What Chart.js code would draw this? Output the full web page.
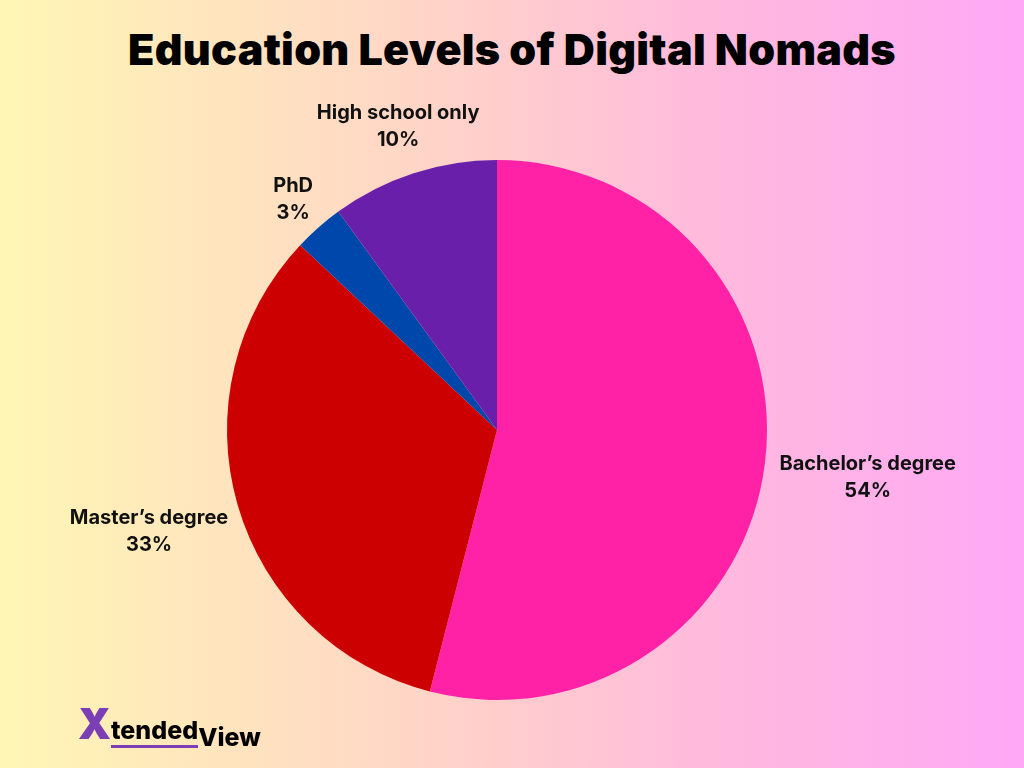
<!DOCTYPE html>
<html lang="en">
<head>
    <meta charset="UTF-8">
    <title>Education Levels of Digital Nomads</title>
    <script src="https://cdn.jsdelivr.net/npm/chart.js"></script>
    <style>
        html, body {
            margin: 0;
            padding: 0;
            width: 1024px;
            height: 768px;
            overflow: hidden;
            background: linear-gradient(to right, #fff6b4 0%, #ffd6c6 40%, #ffb9dd 70%, #ffa8f6 100%);
            font-family: 'Inter', 'Roboto', sans-serif;
        }
        #chart-container {
            position: absolute;
            left: 0;
            top: 0;
            width: 1024px;
            height: 768px;
        }
        h1 {
            position: absolute;
            top: 23px;
            left: 0;
            width: 1024px;
            margin: 0;
            text-align: center;
            font-family: 'Inter', sans-serif;
            font-weight: 900;
            font-size: 43px;
            color: #000;
            letter-spacing: 0.3px;
        }
        #logo {
            position: absolute;
            left: 78px;
            top: 698px;
            font-family: 'Inter', sans-serif;
            font-weight: 800;
            color: #000;
            white-space: nowrap;
        }
        #logo .x { font-size: 42px; color: #7b3fb5; font-weight: 900; }
        #logo .t { font-size: 25px; border-bottom: 3px solid #7b3fb5; }
        #logo .v { font-size: 25px; position: relative; top: 7px; }
    </style>
</head>
<body>
    <h1>Education Levels of Digital Nomads</h1>
    <div id="chart-container">
        <canvas id="pieChart"></canvas>
    </div>
    <div id="logo"><span class="x">X</span><span class="t">tended</span><span class="v">View</span></div>

    <script>
        const categories = ["Bachelor’s degree", "Master’s degree", 'PhD', 'High school only'];
        const shares = [54, 33, 3, 10];
        const colors = ['#ff21a6', '#cc0000', '#0047ab', '#6a1fab'];

        const ctx = document.getElementById('pieChart').getContext('2d');

        // labels outside each slice, pushed out until the text box clears the rim
        const outsideLabels = {
            id: 'outsideLabels',
            afterDatasetsDraw(chart) {
                const { ctx } = chart;
                const meta = chart.getDatasetMeta(0);
                ctx.save();
                ctx.font = 'bold 20px Inter, sans-serif';
                ctx.fillStyle = '#111';
                ctx.textAlign = 'center';
                ctx.textBaseline = 'middle';
                meta.data.forEach((arc, i) => {
                    const mid = (arc.startAngle + arc.endAngle) / 2;
                    const dx = Math.cos(mid), dy = Math.sin(mid);
                    const w = ctx.measureText(categories[i]).width;
                    const halfW = w / 2, halfH = 24;
                    const ext = Math.hypot(halfW * dx, halfH * dy);
                    const dist = arc.outerRadius + 16 + ext;
                    const x = arc.x + dx * dist;
                    const y = arc.y + dy * dist;
                    ctx.fillText(categories[i], x, y - 13);
                    ctx.fillText(shares[i] + '%', x, y + 14);
                });
                ctx.restore();
            }
        };

        new Chart(ctx, {
            type: 'pie',
            data: {
                labels: categories,
                datasets: [{
                    data: shares,
                    backgroundColor: colors,
                    borderWidth: 0
                }]
            },
            options: {
                responsive: true,
                maintainAspectRatio: false,
                animation: false,
                layout: {
                    padding: { top: 160, bottom: 68, left: 227, right: 257 }
                },
                plugins: {
                    legend: { display: false },
                    tooltip: { enabled: false }
                }
            },
            plugins: [outsideLabels]
        });
    </script>
</body>
</html>
